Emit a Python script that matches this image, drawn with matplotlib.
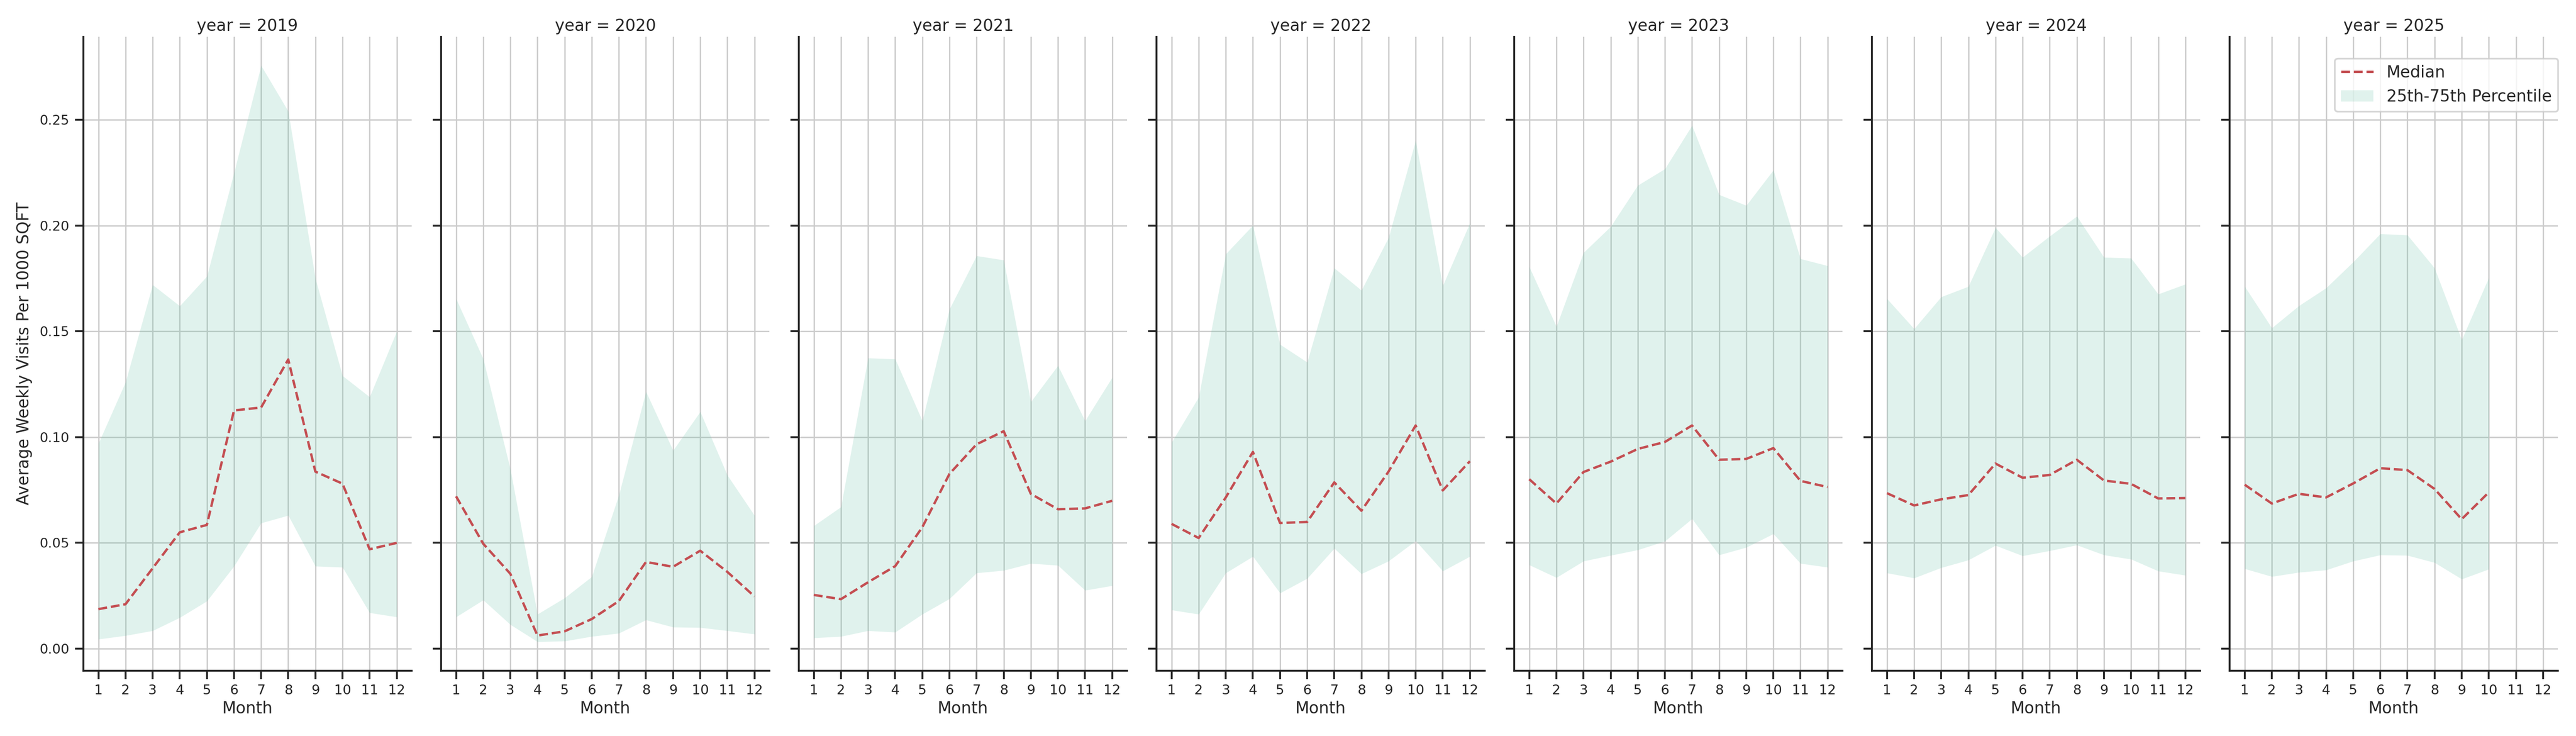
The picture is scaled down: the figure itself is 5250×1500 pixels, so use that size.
"""Monthly visit density by year: median line with interquartile band."""

import numpy as np
import matplotlib.pyplot as plt
from matplotlib.patches import Patch
from matplotlib.lines import Line2D


YEARS = [2019, 2020, 2021, 2022, 2023, 2024, 2025]
MONTHS = list(range(1, 13))

# Median of average weekly visits per 1000 sqft, per month
MEDIAN = {
    2019: [0.0187, 0.0210, 0.0380, 0.0550, 0.0585, 0.1126, 0.1140, 0.1367, 0.0837, 0.0780, 0.0470, 0.0500],
    2020: [0.0720, 0.0496, 0.0354, 0.0062, 0.0082, 0.0140, 0.0225, 0.0410, 0.0387, 0.0463, 0.0363, 0.0247],
    2021: [0.0254, 0.0234, 0.0314, 0.0390, 0.0574, 0.0826, 0.0966, 0.1028, 0.0732, 0.0659, 0.0663, 0.0699],
    2022: [0.0590, 0.0523, 0.0715, 0.0930, 0.0594, 0.0599, 0.0786, 0.0652, 0.0837, 0.1055, 0.0748, 0.0886],
    2023: [0.0801, 0.0686, 0.0835, 0.0884, 0.0944, 0.0977, 0.1055, 0.0893, 0.0897, 0.0948, 0.0793, 0.0764],
    2024: [0.0735, 0.0677, 0.0706, 0.0726, 0.0875, 0.0808, 0.0821, 0.0893, 0.0795, 0.0779, 0.0710, 0.0712],
    2025: [0.0775, 0.0686, 0.0732, 0.0715, 0.0781, 0.0853, 0.0844, 0.0755, 0.0612, 0.0739],
}

# 25th percentile
P25 = {
    2019: [0.0045, 0.0062, 0.0085, 0.0147, 0.0225, 0.0390, 0.0594, 0.0630, 0.0390, 0.0385, 0.0170, 0.0150],
    2020: [0.0150, 0.0230, 0.0114, 0.0033, 0.0036, 0.0058, 0.0073, 0.0136, 0.0102, 0.0100, 0.0085, 0.0069],
    2021: [0.0051, 0.0058, 0.0085, 0.0078, 0.0163, 0.0236, 0.0358, 0.0370, 0.0403, 0.0394, 0.0276, 0.0298],
    2022: [0.0183, 0.0163, 0.0358, 0.0436, 0.0263, 0.0332, 0.0474, 0.0354, 0.0414, 0.0510, 0.0367, 0.0436],
    2023: [0.0396, 0.0336, 0.0414, 0.0441, 0.0467, 0.0508, 0.0614, 0.0443, 0.0479, 0.0543, 0.0403, 0.0385],
    2024: [0.0358, 0.0334, 0.0383, 0.0419, 0.0488, 0.0439, 0.0463, 0.0490, 0.0443, 0.0423, 0.0367, 0.0347],
    2025: [0.0378, 0.0341, 0.0361, 0.0372, 0.0414, 0.0443, 0.0441, 0.0407, 0.0329, 0.0376],
}

# 75th percentile
P75 = {
    2019: [0.0970, 0.1260, 0.1720, 0.1620, 0.1760, 0.2250, 0.2756, 0.2540, 0.1750, 0.1290, 0.1190, 0.1500],
    2020: [0.1654, 0.1370, 0.0848, 0.0163, 0.0240, 0.0340, 0.0726, 0.1215, 0.0937, 0.1120, 0.0820, 0.0630],
    2021: [0.0581, 0.0670, 0.1374, 0.1369, 0.1077, 0.1605, 0.1857, 0.1837, 0.1167, 0.1338, 0.1077, 0.1282],
    2022: [0.0975, 0.1189, 0.1866, 0.2001, 0.1438, 0.1354, 0.1799, 0.1694, 0.1943, 0.2402, 0.1716, 0.2012],
    2023: [0.1805, 0.1523, 0.1872, 0.1995, 0.2190, 0.2268, 0.2473, 0.2146, 0.2095, 0.2262, 0.1843, 0.1810],
    2024: [0.1654, 0.1512, 0.1663, 0.1712, 0.1990, 0.1850, 0.1950, 0.2044, 0.1850, 0.1846, 0.1676, 0.1723],
    2025: [0.1712, 0.1516, 0.1621, 0.1705, 0.1828, 0.1961, 0.1955, 0.1799, 0.1460, 0.1754],
}

MEDIAN_COLOR = "#c44e52"
BAND_COLOR = "#66c2a5"
TEXT_COLOR = "#262626"

plt.rcParams.update({
    "font.family": "DejaVu Sans",
    "text.color": TEXT_COLOR,
    "axes.labelcolor": TEXT_COLOR,
    "axes.edgecolor": TEXT_COLOR,
    "axes.linewidth": 1.1,
    "xtick.color": TEXT_COLOR,
    "ytick.color": TEXT_COLOR,
    "xtick.labelsize": 7.9,
    "ytick.labelsize": 7.9,
    "xtick.major.size": 4.8,
    "ytick.major.size": 4.8,
    "xtick.major.width": 1.1,
    "ytick.major.width": 1.1,
    "grid.color": "#cccccc",
    "grid.linewidth": 0.8,
})

fig, axes = plt.subplots(1, len(YEARS), figsize=(21, 6), dpi=250, sharey=True)
fig.subplots_adjust(left=0.0324, right=0.993, bottom=0.089, top=0.95, wspace=0.09)

for ax, year in zip(axes, YEARS):
    med = np.array(MEDIAN[year])
    x = MONTHS[:len(med)]
    ax.fill_between(x, P25[year], P75[year], color=BAND_COLOR, alpha=0.2,
                    linewidth=0, zorder=2)
    ax.plot(x, med, color=MEDIAN_COLOR, linestyle="--", linewidth=1.4, zorder=3)

    ax.set_xticks(MONTHS)
    ax.set_xlim(0.45, 12.55)
    ax.grid(True, zorder=0)
    ax.set_axisbelow(True)
    ax.spines[["top", "right"]].set_visible(False)
    ax.set_title(f"year = {year}", fontsize=9.5, pad=3.5)
    ax.set_xlabel("Month", fontsize=9.5, labelpad=2)

axes[0].set_yticks(np.arange(0, 0.26, 0.05))
axes[0].yaxis.set_major_formatter(plt.FormatStrFormatter("%.2f"))
axes[0].set_ylabel("Average Weekly Visits Per 1000 SQFT", fontsize=9.5)

handles = [
    Line2D([0], [0], color=MEDIAN_COLOR, linestyle="--", linewidth=1.4),
    Patch(facecolor=BAND_COLOR, alpha=0.2, edgecolor="none"),
]
axes[-1].legend(handles, ["Median", "25th-75th Percentile"], loc="upper right",
                bbox_to_anchor=(1.025, 0.979), fontsize=9.5,
                framealpha=0.8, edgecolor="#cccccc")

fig.savefig("out.png", dpi=250)
